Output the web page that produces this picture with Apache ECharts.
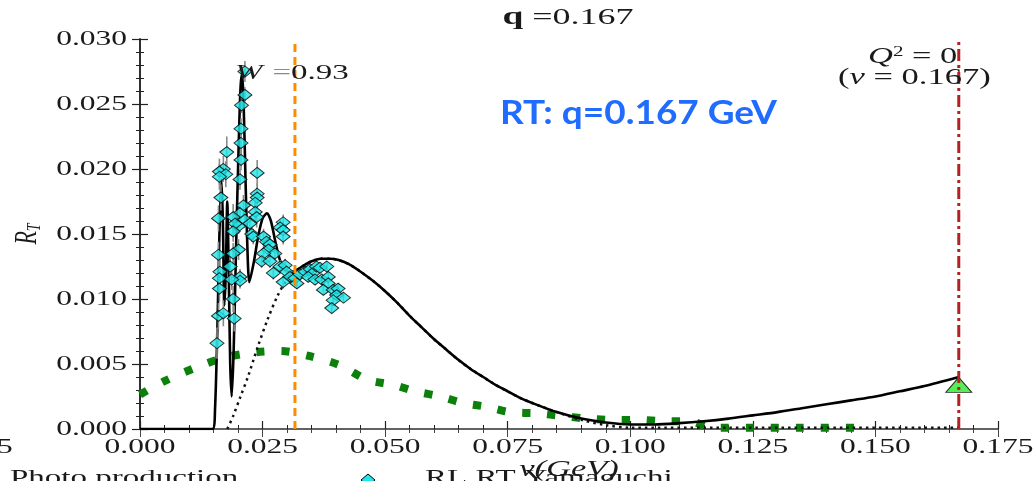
<!DOCTYPE html>
<html>
<head>
<meta charset="utf-8">
<script src="https://cdn.jsdelivr.net/npm/echarts@6/dist/echarts.min.js"></script>
<style>
  html, body { margin: 0; padding: 0; background: #fff; }
  #chart { width: 1034px; height: 481px; }
</style>
</head>
<body>
<div id="chart"></div>
<script>
// Transverse response R_T versus energy transfer nu at q = 0.167 GeV

// Full calculation (solid black)
const fullNu = [0.0000, 0.0100, 0.0148, 0.0153, 0.0158, 0.0162, 0.0166, 0.0169, 0.0172, 0.0175,
  0.0178, 0.0181, 0.0184, 0.0187, 0.0191, 0.0196, 0.0201, 0.0205, 0.0208, 0.0211,
  0.0215, 0.0219, 0.0223, 0.0232, 0.0241, 0.0250, 0.0259, 0.0267, 0.0275, 0.0283,
  0.0292, 0.0302, 0.0312, 0.0322, 0.0335, 0.0350, 0.0368, 0.0388, 0.0405, 0.0425,
  0.0450, 0.0475, 0.0500, 0.0525, 0.0550, 0.0575, 0.0600, 0.0625, 0.0650, 0.0675,
  0.0700, 0.0725, 0.0750, 0.0775, 0.0800, 0.0850, 0.0900, 0.0950, 0.1000, 0.1050,
  0.1100, 0.1150, 0.1200, 0.1250, 0.1300, 0.1350, 0.1400, 0.1450, 0.1500, 0.1550,
  0.1600, 0.1670];
const fullR = [0.0000, 0.0000, 0.0000, 0.0015, 0.0080, 0.0150, 0.0192, 0.0160, 0.0095, 0.0120,
  0.0175, 0.0120, 0.0050, 0.0025, 0.0060, 0.0140, 0.0215, 0.0262, 0.0273, 0.0255,
  0.0195, 0.0140, 0.0113, 0.0128, 0.0148, 0.0162, 0.0166, 0.0160, 0.0146, 0.0133,
  0.0124, 0.0121, 0.0121, 0.0123, 0.0126, 0.0129, 0.0131, 0.0131, 0.0130, 0.0127,
  0.0121, 0.0114, 0.0106, 0.0097, 0.0087, 0.0078, 0.0069, 0.0061, 0.0053, 0.0046,
  0.0040, 0.0034, 0.0029, 0.0024, 0.0020, 0.0013, 0.0008, 0.0005, 0.00035, 0.00035,
  0.00045, 0.0006, 0.0008, 0.00105, 0.0013, 0.0016, 0.0019, 0.0022, 0.0025, 0.0029,
  0.0033, 0.0040];

// Calculation without the low-lying structure (dotted black)
const smoothNu = [0.0178, 0.0190, 0.0205, 0.0220, 0.0240, 0.0260, 0.0280, 0.0300, 0.0320, 0.0335,
  0.0350, 0.0368, 0.0388, 0.0405, 0.0425, 0.0450, 0.0475, 0.0500, 0.0525, 0.0550,
  0.0575, 0.0600, 0.0625, 0.0650, 0.0675, 0.0700, 0.0725, 0.0750, 0.0775, 0.0800,
  0.0850, 0.0900, 0.0950, 0.1000, 0.1200, 0.1400, 0.1670];
const smoothR = [0.0000, 0.0010, 0.0025, 0.0040, 0.0063, 0.0084, 0.0102, 0.0115, 0.0122, 0.0126,
  0.0129, 0.0131, 0.0131, 0.0130, 0.0127, 0.0121, 0.0114, 0.0106, 0.0097, 0.0087,
  0.0078, 0.0069, 0.0061, 0.0053, 0.0046, 0.0040, 0.0034, 0.0029, 0.0024, 0.0020,
  0.0013, 0.0007, 0.0003, 0.0001, 0.0001, 0.0001, 0.0001];

// Photo production (green)
const photoNu = [0.0000, 0.0051, 0.0112, 0.0173, 0.0235, 0.0286, 0.0347, 0.0408, 0.0463, 0.0516,
  0.0561, 0.0612, 0.0659, 0.0708, 0.0755, 0.0812, 0.0861, 0.0912, 0.0965, 0.1018,
  0.1069, 0.1122, 0.1165, 0.1250, 0.1350, 0.1475];
const photoR = [0.00265, 0.0037, 0.0047, 0.0055, 0.0059, 0.0060, 0.0056, 0.0049, 0.0038, 0.0034,
  0.0029, 0.0025, 0.0020, 0.0017, 0.0013, 0.0012, 0.0010, 0.0008, 0.0007, 0.0007,
  0.0006, 0.0006, 0.0001, 0.0001, 0.0001, 0.0001];

// RL RT Yamaguchi points: nu, R_T, error
const ptNu = [0.0214, 0.0214, 0.0207, 0.0206, 0.0206, 0.0206, 0.0204, 0.0211, 0.0204, 0.0214,
  0.0201, 0.0201, 0.0204, 0.0204, 0.0177, 0.0170, 0.0162, 0.0175, 0.0162, 0.0165,
  0.0160, 0.0160, 0.0163, 0.0162, 0.0162, 0.0160, 0.0170, 0.0157, 0.0190, 0.0194,
  0.0190, 0.0190, 0.0184, 0.0187, 0.0190, 0.0192, 0.0239, 0.0239, 0.0239, 0.0235,
  0.0235, 0.0238, 0.0224, 0.0228, 0.0231, 0.0252, 0.0258, 0.0265, 0.0262, 0.0275,
  0.0252, 0.0248, 0.0265, 0.0272, 0.0292, 0.0286, 0.0292, 0.0292, 0.0286, 0.0296,
  0.0299, 0.0306, 0.0292, 0.0316, 0.0320, 0.0326, 0.0337, 0.0347, 0.0353, 0.0343,
  0.0360, 0.0367, 0.0381, 0.0357, 0.0371, 0.0384, 0.0384, 0.0374, 0.0394, 0.0404,
  0.0401, 0.0415, 0.0394, 0.0391];
const ptR = [0.0275, 0.0257, 0.0249, 0.0231, 0.0220, 0.0207, 0.0192, 0.0172, 0.0166, 0.0161,
  0.0156, 0.0138, 0.0117, 0.0114, 0.0213, 0.0200, 0.0198, 0.0196, 0.0194, 0.0178,
  0.0162, 0.0134, 0.0121, 0.0116, 0.0108, 0.0087, 0.0089, 0.0066, 0.0163, 0.0158,
  0.0152, 0.0135, 0.0125, 0.0115, 0.0100, 0.0085, 0.0197, 0.0181, 0.0178, 0.0174,
  0.0167, 0.0163, 0.0158, 0.0150, 0.0148, 0.0148, 0.0144, 0.0142, 0.0138, 0.0135,
  0.0135, 0.0129, 0.0129, 0.0120, 0.0159, 0.0155, 0.0153, 0.0148, 0.0125, 0.0126,
  0.0121, 0.0117, 0.0113, 0.0116, 0.0112, 0.0119, 0.0121, 0.0123, 0.0120, 0.0117,
  0.0125, 0.0124, 0.0125, 0.0115, 0.0115, 0.0117, 0.0112, 0.0107, 0.0107, 0.0108,
  0.0103, 0.0101, 0.0099, 0.0093];
const ptErr = [0.0008, 0.0006, 0.0006, 0.0008, 0.0008, 0.0008, 0.0008, 0.0008, 0.0006, 0.0006,
  0.0006, 0.0008, 0.0006, 0.0006, 0.0012, 0.0010, 0.0010, 0.0010, 0.0010, 0.0010,
  0.0010, 0.0010, 0.0010, 0.0010, 0.0010, 0.0010, 0.0010, 0.0012, 0.0010, 0.0008,
  0.0008, 0.0008, 0.0008, 0.0008, 0.0010, 0.0010, 0.0010, 0.0008, 0.0008, 0.0008,
  0.0008, 0.0008, 0.0006, 0.0006, 0.0006, 0.0006, 0.0006, 0.0006, 0.0006, 0.0006,
  0.0006, 0.0005, 0.0005, 0.0005, 0.0006, 0.0006, 0.0006, 0.0006, 0.0005, 0.0005,
  0.0005, 0.0005, 0.0005, 0.0004, 0.0004, 0.0004, 0.0004, 0.0004, 0.0004, 0.0004,
  0.0004, 0.0004, 0.0004, 0.0004, 0.0004, 0.0004, 0.0004, 0.0004, 0.0004, 0.0004,
  0.0004, 0.0004, 0.0004, 0.0004];

// Real-photon point and reference lines
const photonNu = [0.167];
const photonR = [0.0034];
const wLineNu = 0.0316;   // W = 0.93
const q2LineNu = 0.167;   // Q^2 = 0

const xTicks = [0.000, 0.025, 0.050, 0.075, 0.100, 0.125, 0.150, 0.175];
const yTicks = [0.000, 0.005, 0.010, 0.015, 0.020, 0.025, 0.030];

const zip = (a, b) => a.map((v, i) => [v, b[i]]);
const SERIF = 'Liberation Serif';
const INK = '#1a1a1a';
const WIDE = 1.5;   // horizontal stretch of the serif lettering
const axisColor = '#222';

const tickStyle = { inside: true, length: 8, lineStyle: { color: axisColor, width: 1.2 } };
const minorStyle = { show: true, splitNumber: 5, length: 4, lineStyle: { color: axisColor, width: 1 } };

const chart = echarts.init(document.getElementById('chart'), null, { renderer: 'canvas' });

// vertical reference line drawn across the whole y range
const vLine = (nu, color, dash, z) => ({
  type: 'custom', z: z, silent: true, data: [[nu]],
  renderItem: (params, api) => {
    const a = api.coord([api.value(0), yTicks[0]]);
    const b = api.coord([api.value(0), yTicks[yTicks.length - 1]]);
    return { type: 'line', shape: { x1: a[0], y1: a[1], x2: b[0], y2: b[1] },
      style: { stroke: color, lineWidth: 3, lineDash: dash } };
  }
});

chart.setOption({
  animation: false,
  backgroundColor: '#fff',
  grid: { left: 140, right: 36, top: 39, bottom: 52 },
  xAxis: [{
    type: 'value', min: xTicks[0], max: xTicks[xTicks.length - 1], interval: 0.025,
    axisLine: { lineStyle: { color: axisColor, width: 1.5 } },
    axisTick: tickStyle, minorTick: minorStyle,
    splitLine: { show: false }, axisLabel: { show: false }
  }, {
    type: 'value', position: 'top', min: xTicks[0], max: xTicks[xTicks.length - 1], interval: 0.025,
    axisLine: { lineStyle: { color: '#666', width: 1.5 } },
    axisTick: { inside: true, length: 8, lineStyle: { color: '#444' } },
    minorTick: { show: true, splitNumber: 5, length: 4, lineStyle: { color: '#444' } },
    splitLine: { show: false }, axisLabel: { show: false }
  }],
  yAxis: [{
    type: 'value', min: yTicks[0], max: yTicks[yTicks.length - 1], interval: 0.005,
    axisLine: { show: true, lineStyle: { color: axisColor, width: 1.5 } },
    axisTick: tickStyle, minorTick: minorStyle,
    splitLine: { show: false }, axisLabel: { show: false }
  }, {
    type: 'value', position: 'right', min: yTicks[0], max: yTicks[yTicks.length - 1], interval: 0.005,
    axisLine: { show: true, lineStyle: { color: axisColor, width: 1.5 } },
    axisTick: tickStyle, minorTick: minorStyle,
    splitLine: { show: false }, axisLabel: { show: false }
  }],
  series: [
    {
      name: 'Photo production', type: 'line', z: 2,
      data: zip(photoNu, photoR), showSymbol: false, smooth: 0.3,
      lineStyle: { color: '#0b800b', width: 8, type: [8, 17], cap: 'butt' }
    },
    {
      name: 'threshold', type: 'line', z: 3,
      data: zip(smoothNu, smoothR), showSymbol: false, smooth: 0.3,
      lineStyle: { color: '#111', width: 2.5, type: [2.5, 4] }
    },
    {
      name: 'full', type: 'line', z: 3,
      data: zip(fullNu, fullR), showSymbol: false, smooth: 0.25,
      lineStyle: { color: '#000', width: 2.6 }
    },
    {
      name: 'errors', type: 'custom', z: 4,
      data: ptNu.map((v, i) => [v, ptR[i] - ptErr[i], ptR[i] + ptErr[i]]),
      renderItem: (params, api) => {
        const lo = api.coord([api.value(0), api.value(1)]);
        const hi = api.coord([api.value(0), api.value(2)]);
        return { type: 'line', shape: { x1: lo[0], y1: lo[1], x2: hi[0], y2: hi[1] },
          style: { stroke: '#8a8a8a', lineWidth: 1.6 } };
      }
    },
    {
      name: 'RL RT Yamaguchi', type: 'scatter', z: 5,
      data: zip(ptNu, ptR), symbol: 'diamond', symbolSize: [14, 11],
      itemStyle: { color: '#1fe6e8', borderColor: '#000', borderWidth: 1 }
    },
    {
      name: 'photon point', type: 'scatter', z: 6,
      data: zip(photonNu, photonR), symbol: 'triangle', symbolSize: [26, 15],
      itemStyle: { color: '#2ee82e', borderColor: '#000', borderWidth: 1 }
    },
    vLine(wLineNu, '#ff8c00', [8, 5], 8),
    vLine(q2LineNu, '#b22222', [12, 4, 3, 4], 8)
  ]
});

// Lettering: serif text stretched horizontally, placed through the axis scales
const px = v => chart.convertToPixel({ xAxisIndex: 0 }, v);
const py = v => chart.convertToPixel({ yAxisIndex: 0 }, v);
const x0 = px(xTicks[0]), x1 = px(xTicks[xTicks.length - 1]);
const y0 = py(yTicks[0]);
const font = (size, extra) => (extra ? extra + ' ' : '') + size + 'px "' + SERIF + '"';

const gfx = [];
xTicks.forEach(v => gfx.push({
  type: 'text', x: px(v), y: y0 + 18, scaleX: WIDE, z: 20,
  style: { text: v.toFixed(3), align: 'center', verticalAlign: 'middle', font: font(21), fill: INK }
}));
yTicks.forEach(v => gfx.push({
  type: 'text', x: x0 - 13, y: py(v), scaleX: WIDE, z: 20,
  style: { text: v.toFixed(3), align: 'right', verticalAlign: 'middle', font: font(21), fill: INK }
}));

gfx.push(
  // title
  { type: 'text', x: (x0 + x1) / 2 - 1, y: 18, scaleX: WIDE, z: 20,
    style: { text: '{b|q}{n| =0.167}', align: 'center', verticalAlign: 'middle', rich: {
      b: { fontFamily: SERIF, fontWeight: 'bold', fontSize: 25, fill: INK },
      n: { fontFamily: SERIF, fontSize: 24, fill: INK } } } },
  // y axis name
  { type: 'text', x: 28, y: 234, rotation: Math.PI / 2, scaleY: 1.4, z: 20,
    style: { text: '{r|R}{t|T}', align: 'center', verticalAlign: 'middle', rich: {
      r: { fontFamily: SERIF, fontStyle: 'italic', fontSize: 22, fill: INK },
      t: { fontFamily: SERIF, fontStyle: 'italic', fontSize: 14, fill: INK, padding: [10, 0, 0, 0] } } } },
  // x axis name
  { type: 'text', x: (x0 + x1) / 2, y: 470, scaleX: WIDE, z: 20,
    style: { text: 'ν(GeV)', align: 'center', verticalAlign: 'middle', font: font(23, 'italic'), fill: INK } },
  // W line annotation
  { type: 'text', x: 235, y: 73, scaleX: WIDE, z: 20,
    style: { text: '{w|W}  {e|=}{n|0.93}', align: 'left', verticalAlign: 'middle', rich: {
      w: { fontFamily: SERIF, fontStyle: 'italic', fontSize: 22, fill: INK },
      e: { fontFamily: SERIF, fontSize: 22, fill: '#8a8a8a' },
      n: { fontFamily: SERIF, fontSize: 22, fill: INK } } } },
  // real photon point annotation
  { type: 'text', x: 868, y: 57, scaleX: WIDE, z: 20,
    style: { text: '{q|Q}{s|2}{n| = 0}', align: 'left', verticalAlign: 'middle', rich: {
      q: { fontFamily: SERIF, fontStyle: 'italic', fontSize: 23, fill: INK },
      s: { fontFamily: SERIF, fontSize: 14, fill: INK, padding: [0, 0, 10, 0] },
      n: { fontFamily: SERIF, fontSize: 23, fill: INK } } } },
  { type: 'text', x: 838, y: 78, scaleX: WIDE, z: 20,
    style: { text: '({v|ν} = 0.167)', align: 'left', verticalAlign: 'middle', font: font(23), fill: INK,
      rich: { v: { fontFamily: SERIF, fontStyle: 'italic', fontSize: 23, fill: INK } } } },
  // panel tag
  { type: 'text', x: 500, y: 113, scaleX: 1.12, z: 20,
    style: { text: 'RT: q=0.167 GeV', align: 'left', verticalAlign: 'middle', font: 'bold 33px Lato', fill: '#1f6cff' } },
  // piece of the neighbouring label at the left edge
  { type: 'text', x: -3, y: y0 + 18, scaleX: WIDE, z: 20,
    style: { text: '5', align: 'left', verticalAlign: 'middle', font: font(21), fill: INK } },
  // legend row
  { type: 'text', x: 10, y: 467, scaleX: WIDE, z: 20,
    style: { text: 'Photo production', align: 'left', verticalAlign: 'top', font: font(22), fill: INK } },
  { type: 'polygon', z: 20,
    shape: { points: [[368, 474], [375, 480], [368, 486], [361, 480]] },
    style: { fill: '#1fe6e8', stroke: '#000', lineWidth: 1 } },
  { type: 'text', x: 425, y: 467, scaleX: WIDE, z: 20,
    style: { text: 'RL RT Yamaguchi', align: 'left', verticalAlign: 'top', font: font(22), fill: INK } }
);

chart.setOption({ graphic: gfx });
</script>
</body>
</html>
